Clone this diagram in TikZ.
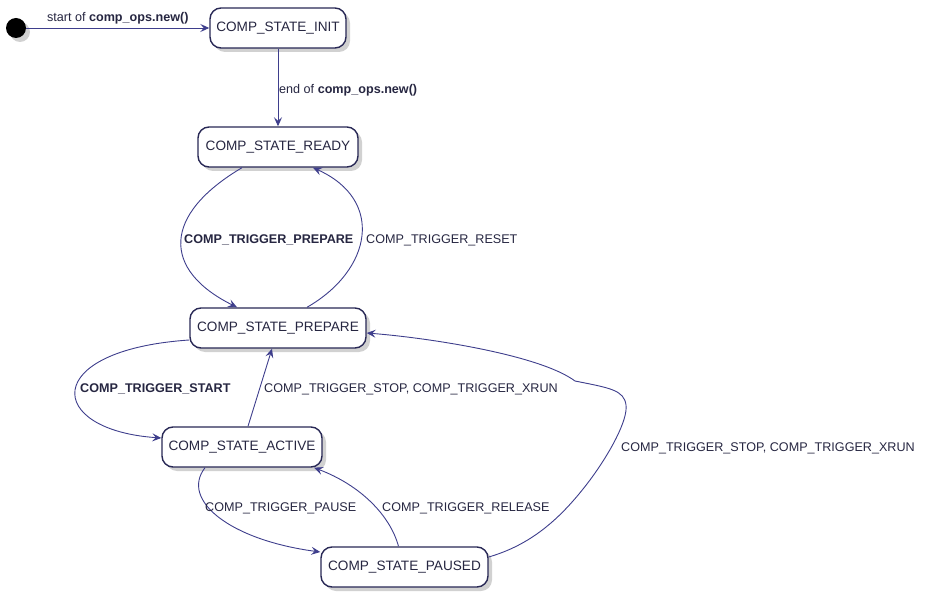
\documentclass[tikz,border=0pt]{standalone}
\usepackage{fontspec}
\setmainfont{Liberation Sans}
\usetikzlibrary{arrows.meta,shadows}
\definecolor{stborder}{RGB}{40,40,85}
\definecolor{edgecol}{RGB}{62,62,140}
\definecolor{txtcol}{RGB}{38,38,65}
\tikzset{
  shadowstyle/.style={drop shadow={shadow xshift=4pt, shadow yshift=-4pt, opacity=0.45, fill=gray!80}},
  state/.style={draw=stborder, line width=1.4pt, fill=white, rounded corners=11pt,
    minimum height=40pt, inner xsep=5pt, text=txtcol,
    font=\fontsize{13.6}{15}\selectfont, shadowstyle},
  startdot/.style={circle, fill=black, minimum size=20pt, inner sep=0pt, shadowstyle},
  trans/.style={draw=edgecol, line width=0.9pt, -{Stealth[length=9pt,width=8pt,inset=3.5pt]}},
  lbl/.style={text=txtcol, font=\fontsize{12.6}{14}\selectfont, inner sep=0pt, anchor=west},
}
\begin{document}
\begin{tikzpicture}[x=1pt,y=-1pt]
\useasboundingbox (0,0) rectangle (929,596);
\node[startdot] (start) at (16,28) {};
\node[state, minimum width=136pt] (init) at (278,28) {COMP\_STATE\_INIT};
\node[state, minimum width=160pt] (ready) at (278,147) {COMP\_STATE\_READY};
\node[state, minimum width=176pt] (prepare) at (278,328) {COMP\_STATE\_PREPARE};
\node[state, minimum width=160pt] (active) at (242,447) {COMP\_STATE\_ACTIVE};
\node[state, minimum width=167pt] (paused) at (404.5,567) {COMP\_STATE\_PAUSED};

% start -> init
\draw[trans] (start) -- (init.west)
  node[midway, above=3.5pt, text=txtcol, font=\fontsize{12.6}{14}\selectfont, inner sep=0pt] (l0) {start of \textbf{comp\_ops.new()}};
% init -> ready
\draw[trans] (init.south) -- (ready.north);
\node[lbl] (l1) at (279,90) {end of \textbf{comp\_ops.new()}};
% ready -> prepare
\draw[trans] ([xshift=-36pt]ready.south) .. controls (162,215) and (162,270) .. ([xshift=-41pt]prepare.north);
\node[lbl] (l2) at (184,240) {\textbf{COMP\_TRIGGER\_PREPARE}};
% prepare -> ready
\draw[trans] ([xshift=29pt]prepare.north) .. controls (372,270) and (385,200) .. ([xshift=35pt]ready.south);
\node[lbl] (l3) at (366,240) {COMP\_TRIGGER\_RESET};
% prepare -> active
\draw[trans] ([yshift=-12pt]prepare.west) .. controls (40,350) and (45,430) .. ([yshift=9pt]active.west);
\node[lbl] (l4) at (80,389) {\textbf{COMP\_TRIGGER\_START}};
% active -> prepare
\draw[trans] ([xshift=6pt]active.north) -- ([xshift=-6pt]prepare.south);
\node[lbl] (l5) at (264,389) {COMP\_TRIGGER\_STOP, COMP\_TRIGGER\_XRUN};
% active -> paused
\draw[trans] ([xshift=-37pt]active.south) .. controls (180,500) and (230,540) .. ([yshift=15pt]paused.west);
\node[lbl] (l6) at (205,508) {COMP\_TRIGGER\_PAUSE};
% paused -> active
\draw[trans] ([xshift=-6pt]paused.north) .. controls (390,515) and (360,485) .. ([xshift=72pt]active.south);
\node[lbl] (l7) at (382,508) {COMP\_TRIGGER\_RELEASE};
% paused -> prepare
\draw[trans] ([yshift=10pt]paused.east) .. controls (530,545) and (560,520) .. (590,480)
  .. controls (610,453) and (628,420) .. (626,405)
  .. controls (624,390) and (610,388) .. (575,381)
  .. controls (540,355) and (430,338) .. ([yshift=-5pt]prepare.east);
\node[lbl] (l8) at (621,448) {COMP\_TRIGGER\_STOP, COMP\_TRIGGER\_XRUN};
\end{tikzpicture}
\end{document}
